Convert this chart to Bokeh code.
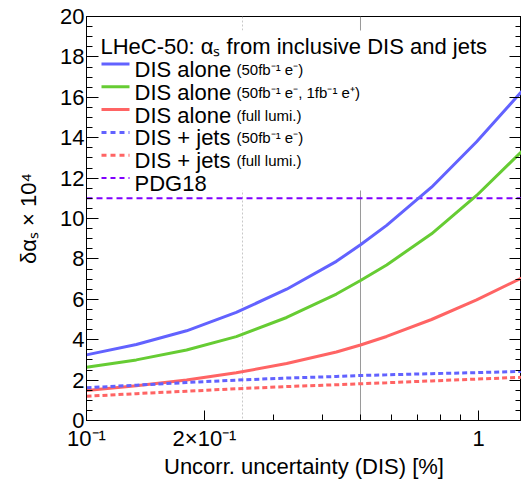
import math
from bokeh.plotting import figure
from bokeh.models import (FixedTicker, LinearAxis, Span, BoxAnnotation, Label, Range1d,
                          CustomLabelingPolicy)
from bokeh.embed import file_html
from bokeh.resources import INLINE

# ---- data ----
unc = [0.1, 0.134, 0.18, 0.241, 0.324, 0.434, 0.5, 0.583, 0.759, 0.989, 1.29]
dis_alone_50 = [3.25, 3.76, 4.44, 5.35, 6.50, 7.88, 8.70, 9.66, 11.55, 13.80, 16.30]
dis_alone_50_1 = [2.64, 3.00, 3.49, 4.15, 5.10, 6.26, 6.93, 7.70, 9.24, 11.14, 13.33]
dis_alone_full = [1.49, 1.72, 2.00, 2.36, 2.82, 3.39, 3.74, 4.16, 5.00, 5.97, 7.06]
dis_jets_50 = [1.62, 1.75, 1.88, 2.00, 2.10, 2.18, 2.23, 2.26, 2.32, 2.37, 2.43]
dis_jets_full = [1.20, 1.33, 1.45, 1.57, 1.68, 1.77, 1.82, 1.87, 1.96, 2.05, 2.14]
pdg18 = 11.0
ref_dotted = 0.25
ref_solid = 0.5

y_ticks = list(range(0, 21, 2))
y_minor = [i * 0.5 for i in range(41)]
x_ticks = [0.1, 0.2, 1.0]
x_minor = [0.3, 0.4, 0.5, 0.6, 0.7, 0.8, 0.9]
x_tick_labels = {0.1: "10⁻¹", 0.2: "2×10⁻¹", 1.0: "1"}

x_title = "Uncorr. uncertainty (DIS) [%]"
y_title = "δαₛ × 10⁴"
title_text = "LHeC-50: αₛ from inclusive DIS and jets"
legend_main = ["DIS alone", "DIS alone", "DIS alone", "DIS + jets", "DIS + jets", "PDG18"]
legend_small = ["(50fb⁻¹ e⁻)", "(50fb⁻¹ e⁻, 1fb⁻¹ e⁺)", "(full lumi.)", "(50fb⁻¹ e⁻)", "(full lumi.)", ""]

BLUE = "#6262ff"
GREEN = "#66cc33"
RED = "#ff6464"
PURPLE = "#8000ff"
FONT = "Liberation Sans"

# ---- layout (page pixels) ----
W, H = 521, 488
FL, FR, FT, FB = 86, 521, 16, 420          # frame in canvas pixels
X0, X1 = 0.1, 0.1 * 10 ** ((FR - FL) / 392)
Y0, Y1 = 0.0, 20.0


def dx(px):
    return 10 ** (math.log10(X0) + (px - FL) / (FR - FL) * (math.log10(X1) - math.log10(X0)))


def dy(py):
    return Y1 - (py - FT) / (FB - FT) * (Y1 - Y0)


p = figure(width=W, height=H, x_axis_type="log",
           x_range=Range1d(X0, X1), y_range=Range1d(Y0, Y1),
           output_backend="svg", toolbar_location=None,
           min_border_left=FL, min_border_right=0, min_border_top=FT,
           min_border_bottom=H - FB)
p.grid.visible = False
p.outline_line_color = "black"
p.outline_line_width = 1
p.background_fill_color = "white"
p.border_fill_color = "white"

# x axis
xa = p.xaxis[0]
xa.ticker = FixedTicker(ticks=x_ticks, minor_ticks=x_minor)
xa.major_label_overrides = x_tick_labels
xa.major_tick_in = 10
xa.major_tick_out = 0
xa.minor_tick_in = 6
xa.minor_tick_out = 0
xa.major_label_text_font = FONT
xa.major_label_text_font_size = "22px"
xa.major_label_text_color = "black"
xa.major_label_standoff = 5
xa.axis_label = x_title
xa.axis_label_text_font = FONT
xa.axis_label_text_font_size = "22px"
xa.axis_label_text_font_style = "normal"
xa.axis_label_text_color = "black"
xa.axis_label_standoff = 0
xa.axis_line_color = "black"

# y axis
ya = p.yaxis[0]
ya.ticker = FixedTicker(ticks=y_ticks, minor_ticks=y_minor)
ya.major_tick_in = 12
ya.major_tick_out = 0
ya.minor_tick_in = 6
ya.minor_tick_out = 0
ya.major_label_text_font = FONT
ya.major_label_text_font_size = "22px"
ya.major_label_text_color = "black"
ya.major_label_standoff = 2
ya.axis_label = y_title
ya.axis_label_text_font = FONT
ya.axis_label_text_font_size = "22px"
ya.axis_label_text_font_style = "normal"
ya.axis_label_text_color = "black"
ya.axis_label_standoff = 16
ya.axis_line_color = "black"

hide_all = CustomLabelingPolicy(code="""
for (const i of indices) { indices.unset(i) }
return indices
""")
ra = LinearAxis(ticker=FixedTicker(ticks=y_ticks, minor_ticks=y_minor),
                major_tick_in=12, major_tick_out=0, minor_tick_in=6, minor_tick_out=0,
                major_label_text_font_size="0px", major_label_standoff=0,
                major_label_policy=hide_all, axis_line_color=None)
p.add_layout(ra, "right")

# reference lines
p.add_layout(Span(location=ref_dotted, dimension="height", line_color="#c8c8c8",
                  line_width=1, line_dash="2 2", level="underlay"))
p.add_layout(Span(location=ref_solid, dimension="height", line_color="#999999",
                  line_width=1, level="underlay"))
p.add_layout(Span(location=pdg18, dimension="width", line_color=PURPLE,
                  line_width=2, line_dash="6 4", level="underlay"))

# legend background box
p.add_layout(BoxAnnotation(left=dx(95), right=dx(516), top=dy(30), bottom=dy(190),
                           fill_color="white", fill_alpha=1.0, line_color=None,
                           level="underlay"))

# curves
p.line(unc, dis_alone_50, line_color=BLUE, line_width=3)
p.line(unc, dis_alone_50_1, line_color=GREEN, line_width=3)
p.line(unc, dis_alone_full, line_color=RED, line_width=3)
p.line(unc, dis_jets_50, line_color=BLUE, line_width=3, line_dash="5 3")
p.line(unc, dis_jets_full, line_color=RED, line_width=3, line_dash="5 3")

# legend
p.add_layout(Label(x=dx(100), y=dy(46), text=title_text, text_font=FONT,
                   text_font_size="22px", text_color="black",
                   text_align="left", text_baseline="alphabetic"))
styles = [(BLUE, 3, "solid"), (GREEN, 3, "solid"), (RED, 3, "solid"),
          (BLUE, 3, "5 4"), (RED, 3, "5 4"), (PURPLE, 2, "5 4")]
base0, step = 69.0, 22.8
for i, (main, small) in enumerate(zip(legend_main, legend_small)):
    b = base0 + i * step
    col, lw, dash = styles[i]
    p.segment(x0=[dx(101)], y0=[dy(b - 5.5)], x1=[dx(129)], y1=[dy(b - 5.5)],
              line_color=col, line_width=lw, line_dash=dash)
    p.add_layout(Label(x=dx(134), y=dy(b), text=main, text_font=FONT,
                       text_font_size="22px", text_color="black",
                       text_align="left", text_baseline="alphabetic"))
    if small:
        p.add_layout(Label(x=dx(236), y=dy(b), text=small, text_font=FONT,
                           text_font_size="15px", text_color="black",
                           text_align="left", text_baseline="alphabetic"))

open("out.html", "w").write(file_html(p, INLINE))
